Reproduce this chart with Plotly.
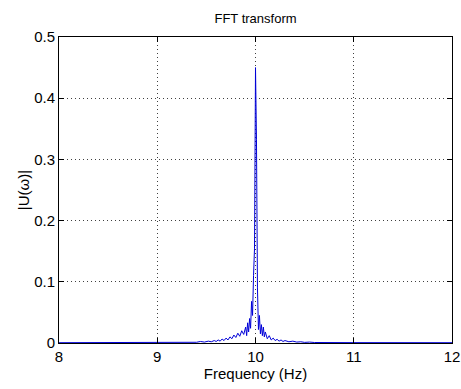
import plotly.graph_objects as go

freq = [8.0, 9.0, 9.30, 9.35, 9.40, 9.44, 9.48, 9.52, 9.55, 9.58, 9.60, 9.62, 9.64,
        9.66, 9.68, 9.70, 9.72, 9.74, 9.76, 9.78, 9.80, 9.82, 9.84, 9.86, 9.88,
        9.90, 9.91, 9.92, 9.93, 9.94, 9.95, 9.96, 9.97, 9.98, 9.99, 10.00, 10.01,
        10.02, 10.03, 10.04, 10.05, 10.06, 10.07, 10.08, 10.09, 10.10, 10.12,
        10.14, 10.16, 10.18, 10.20, 10.22, 10.24, 10.26, 10.28, 10.30, 10.34,
        10.38, 10.42, 10.46, 10.50, 10.55, 10.60, 11.0, 12.0]
amp = [0.0005, 0.0008, 0.001, 0.0018, 0.0012, 0.0025, 0.0015, 0.003, 0.002, 0.004,
       0.0025, 0.005, 0.003, 0.0065, 0.004, 0.008, 0.005, 0.010, 0.007, 0.013,
       0.009, 0.016, 0.011, 0.020, 0.014, 0.026, 0.012, 0.033, 0.018, 0.040,
       0.024, 0.068, 0.045, 0.11, 0.155, 0.45, 0.333, 0.09, 0.022, 0.045, 0.015,
       0.030, 0.012, 0.026, 0.010, 0.018, 0.007, 0.012, 0.005, 0.008, 0.004,
       0.006, 0.003, 0.005, 0.0025, 0.004, 0.002, 0.003, 0.0015, 0.002, 0.001,
       0.0015, 0.0008, 0.0006, 0.0005]

x_ticks = [8, 9, 10, 11, 12]
y_ticks = [0, 0.1, 0.2, 0.3, 0.4, 0.5]
y_tick_labels = ["0", "0.1", "0.2", "0.3", "0.4", "0.5"]

fig = go.Figure()
fig.add_trace(go.Scatter(x=freq, y=amp, mode="lines",
                         line=dict(color="#0000d8", width=1), showlegend=False))

font_family = "Liberation Sans, Arial, sans-serif"
axis_common = dict(
    showline=True, linecolor="black", linewidth=1, mirror="allticks",
    ticks="inside", ticklen=5, tickcolor="black", automargin=False,
    showgrid=True, gridcolor="#404040", griddash="1px,3px", gridwidth=1,
    zeroline=False, tickfont=dict(size=15, color="black", family=font_family),
)

fig.update_layout(
    width=461, height=389, autosize=False,
    margin=dict(l=59, r=9, t=37, b=46),
    paper_bgcolor="white", plot_bgcolor="white",
    title=dict(text="FFT transform", x=(59 + 452) / 2 / 461, xanchor="center",
               y=1 - 18 / 389, yanchor="middle", automargin=False,
               font=dict(size=13, color="black", family=font_family)),
    xaxis=dict(range=[8, 12], tickvals=x_ticks,
               title=dict(text="Frequency (Hz)", standoff=3,
                          font=dict(size=15, color="black", family=font_family)),
               **axis_common),
    yaxis=dict(range=[0, 0.5], tickvals=y_ticks, ticktext=y_tick_labels,
               title=dict(text="|U(ω)|", standoff=0,
                          font=dict(size=15, color="black", family=font_family)),
               **axis_common),
)

fig.write_html("out.html")
